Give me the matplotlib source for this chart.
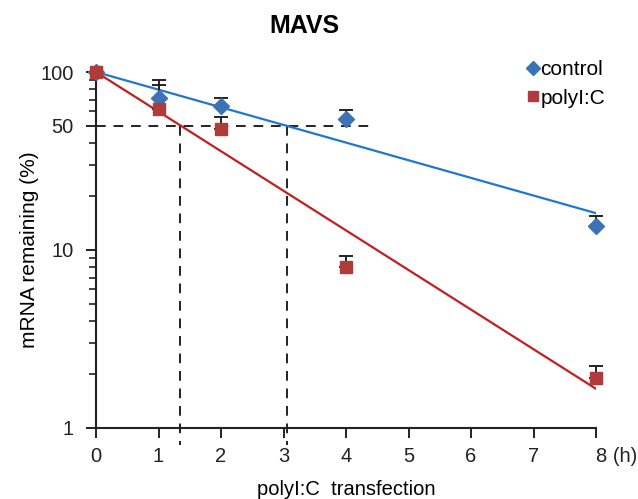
import numpy as np
import matplotlib
matplotlib.use("Agg")
import matplotlib.pyplot as plt

plt.rcParams['font.family'] = ['Liberation Sans', 'DejaVu Sans']

# time points (h)
hours = [0, 1, 2, 4, 8]

# mRNA remaining (%)
control = [100, 71.4, 64.4, 54.4, 13.6]
control_err = [0, 18.8, 7.5, 6.5, 1.9]
polyic = [100, 62.0, 47.9, 8.0, 1.91]
polyic_err = [0, 22.5, 8.0, 1.2, 0.32]

# exponential trend lines, start/end values at 0 h and 8 h
fit_hours = [0, 8]
control_fit = [100, 16.1]
polyic_fit = [100, 1.66]

# half-lives
half_lives = [1.35, 3.05]

blue_marker = "#3C72B6"
red_marker = "#B13A3A"
blue_line = "#1F77D0"
red_line = "#C41E1E"

figure = plt.figure(figsize=(6.38, 4.99), dpi=100)
axes = figure.add_axes([0.1505, 0.1423, 0.7837, 0.7134])

axes.plot(fit_hours, control_fit, color=blue_line, lw=1.6, zorder=2)
axes.plot(fit_hours, polyic_fit, color=red_line, lw=1.6, zorder=2)

# dashed half-life guides
axes.plot([0, 4.46], [50, 50], color="#222222", ls=(0, (5, 4)), lw=1.4, zorder=1)
for h in half_lives:
    axes.plot([h, h], [50, 0.8], color="#222222", ls=(0, (5, 4)), lw=1.4,
              clip_on=False, zorder=1)

for values, errs in [(control, control_err), (polyic, polyic_err)]:
    eb = axes.errorbar(hours, values, yerr=[np.zeros(5), errs], fmt="none",
                       ecolor="#222222", elinewidth=1.4, capsize=5, capthick=1.4, zorder=3)
    for art in eb.lines[1] + eb.lines[2]:
        art.set_clip_on(False)

axes.plot(hours, control, ls="none", marker="D", ms=8, color=blue_marker,
          label="control", zorder=4, clip_on=False)
axes.plot(hours, polyic, ls="none", marker="s", ms=8, color=red_marker,
          label="polyI:C", zorder=4, clip_on=False)

axes.set_yscale("log")
axes.set_xlim(0, 8)
axes.set_ylim(1, 100)
axes.set_yticks([1, 10, 50, 100])
axes.set_yticklabels(["1", "10", "50", "100"])
axes.set_xticks(range(9))
axes.set_xticklabels([str(i) for i in range(8)] + ["8 (h)"])
xt = axes.get_xticklabels()
xt[-1].set_horizontalalignment("left")
xt[-1].set_x(8)

for side in ["top", "right"]:
    axes.spines[side].set_visible(False)
for side in ["left", "bottom"]:
    axes.spines[side].set_linewidth(1.5)
    axes.spines[side].set_color("#222222")

axes.tick_params(axis="both", which="major", direction="out", length=7, width=1.4,
                 labelsize=14.5, colors="#222222")
axes.tick_params(axis="x", which="major", pad=7)
axes.tick_params(axis="y", which="major", pad=9)
axes.tick_params(axis="y", which="minor", direction="out", length=5, width=1.2,
                 colors="#222222")
axes.yaxis.set_minor_formatter(matplotlib.ticker.NullFormatter())

axes.set_xlabel("polyI:C  transfection", fontsize=14.5, labelpad=10)
axes.set_ylabel("mRNA remaining (%)", fontsize=15, labelpad=1)

figure.text(0.477, 0.947, "MAVS", fontsize=18, fontweight="bold", ha="center", va="center")

figure.legend(loc="center left", bbox_to_anchor=(527 / 638, 1 - 84 / 499), frameon=False,
              fontsize=15, handletextpad=0.05, handlelength=0.6, labelspacing=0.45,
              borderaxespad=0.0, borderpad=0.0, markerscale=0.9)

figure.savefig("out.png", dpi=100)
